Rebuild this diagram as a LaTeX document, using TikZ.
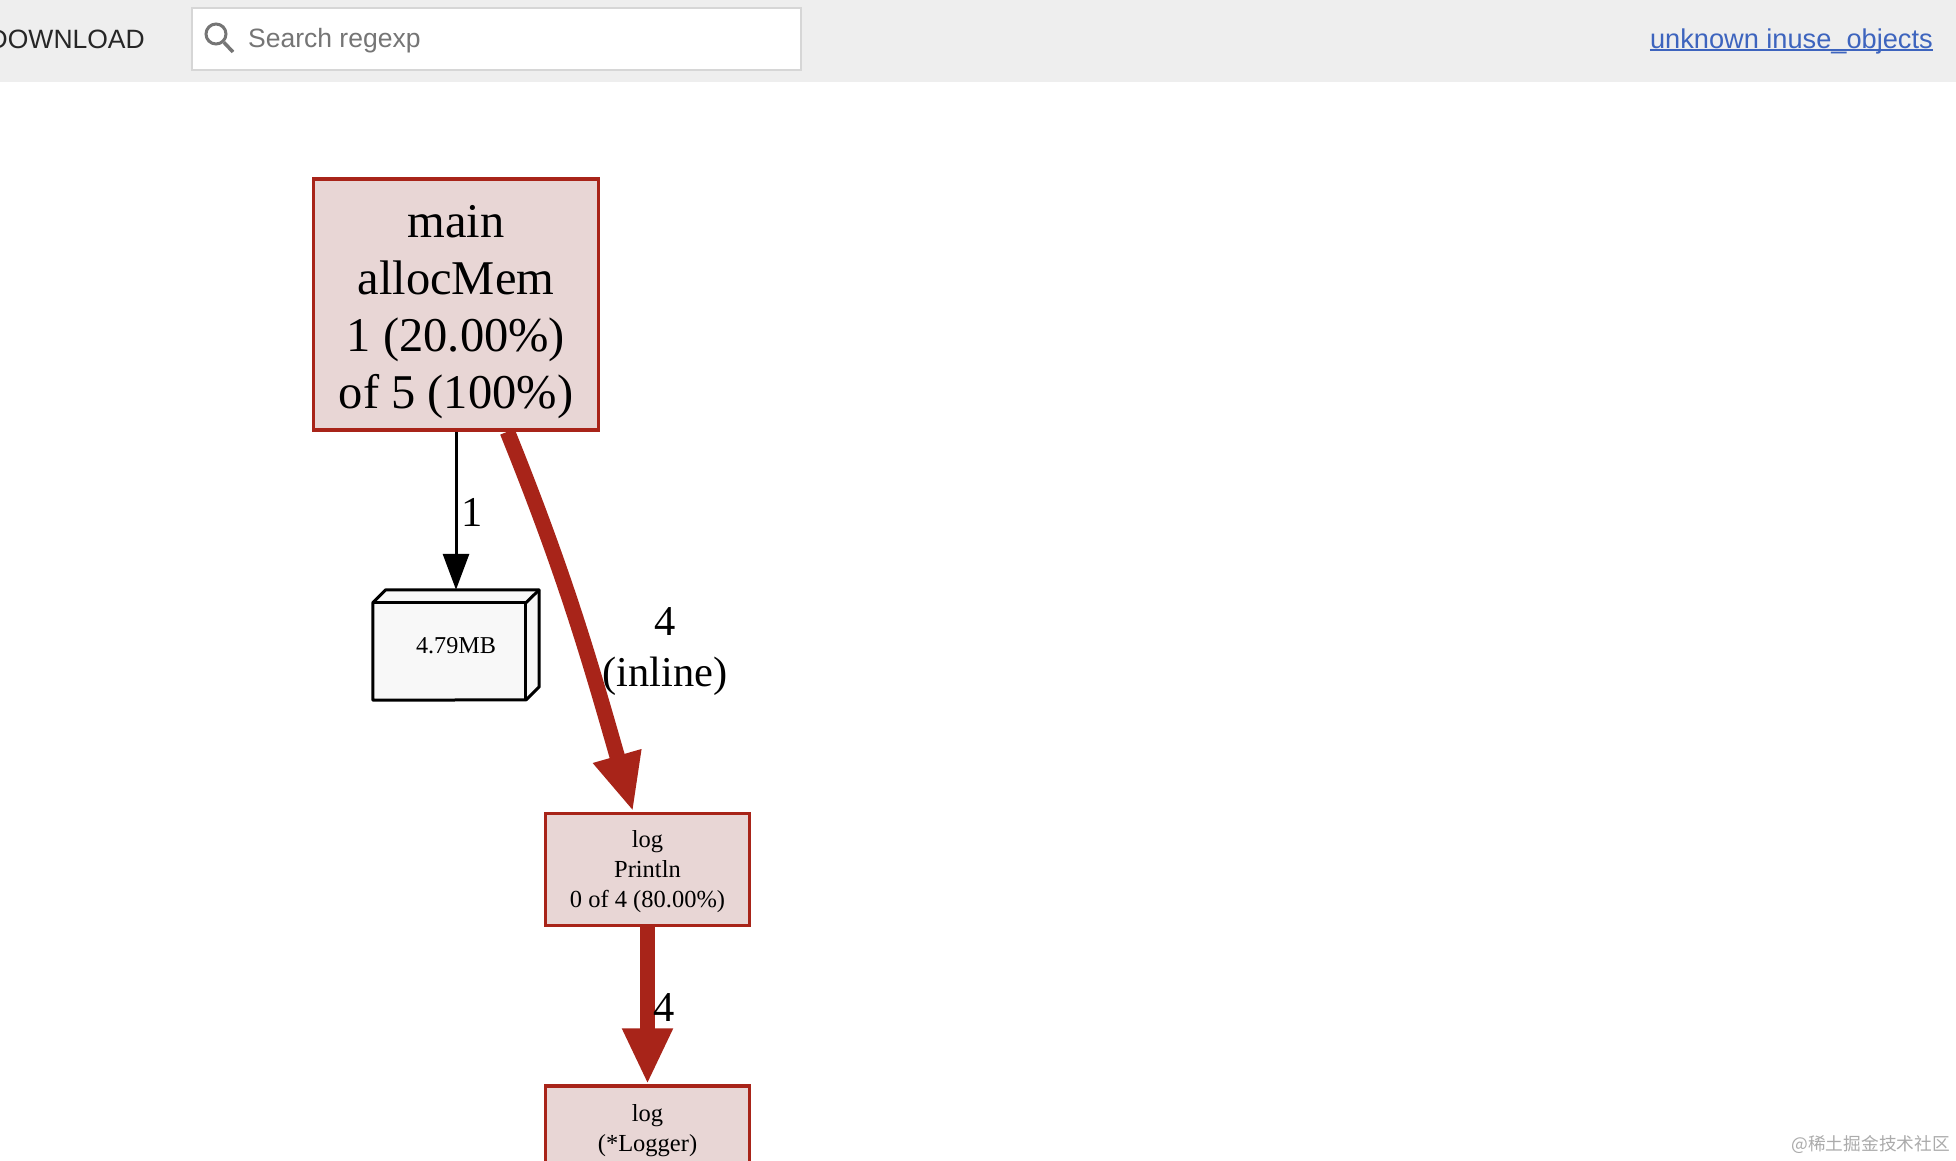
\documentclass[tikz,border=0pt]{standalone}
\usepackage{fontspec}
\usetikzlibrary{arrows.meta}
\setmainfont{Liberation Serif}
\newfontfamily\barfont{Liberation Sans}
\newfontfamily\cjkfont{Noto Sans CJK SC}
\definecolor{barbg}{HTML}{EEEEEE}
\definecolor{barline}{HTML}{D6D6D6}
\definecolor{iconcol}{HTML}{757575}
\definecolor{linkcol}{HTML}{3D64BE}
\definecolor{hotfill}{HTML}{E8D6D5}
\definecolor{hotline}{HTML}{A82419}
\definecolor{memfill}{HTML}{F8F8F8}
\tikzset{
    funcbox/.style={draw=hotline, fill=hotfill, line width=3.5pt, inner sep=0pt},
    boxtext/.style={inner sep=0pt, align=center, font=\fontsize{24.5}{30}\selectfont},
    bigtext/.style={boxtext, font=\fontsize{48.5}{57}\selectfont},
    edgelabel/.style={inner sep=0pt, align=center, font=\fontsize{42.5}{51}\selectfont},
    hotedge/.style={draw=hotline, -{Triangle[length=58pt, width=46pt]}},
    plainedge/.style={draw=black, line width=3pt, -{Triangle[length=36pt, width=26pt]}},
    bartext/.style={inner sep=0pt, font=\barfont\fontsize{26.5}{30}\selectfont}
}
\begin{document}
\begin{tikzpicture}[x=1pt, y=-1pt]
    \clip[use as bounding box] (0, 0) rectangle (1956, 1160);
    \fill[white] (0, 0) rectangle (1956, 1160);

    \node[fill=barbg, minimum width=1956pt, minimum height=82pt, inner sep=0pt] (bar) at (978, 41) {};
    \node[bartext, text=black!85, anchor=east] (download) at (145, 39) {DOWNLOAD};
    \node[draw=barline, fill=white, line width=2pt, minimum width=609pt, minimum height=62pt, inner sep=0pt] (search) at (496, 38.5) {};
    \node[bartext, text=iconcol, anchor=west] (regexp) at (248, 40.5) {Search regexp};
    \node[draw=iconcol, line width=3pt, circle, minimum size=20pt, inner sep=0pt] (lens) at (216, 34) {};
    \coordinate (lensend) at (233, 52);
    \draw[iconcol, line width=3.5pt] (lens) -- (lensend);
    \node[bartext, text=linkcol, anchor=east, font=\barfont\fontsize{27.2}{30}\selectfont] (link) at (1933, 41) {unknown inuse\_objects};
    \draw[linkcol, line width=2pt] ([yshift=-2pt]link.base west) -- ([yshift=-2pt]link.base east);

    \node[funcbox, minimum width=285pt, minimum height=251pt] (main) at (456, 304.5) {};
    \node[bigtext] (maintext) at (456, 312) {main\\allocMem\\1 (20.00\%)\\of 5 (100\%)};
    \node[minimum width=166pt, minimum height=110pt, inner sep=0pt] (mem) at (456, 645) {};
    \draw[fill=memfill, line width=3pt, line join=round] (mem.north west) ++(0, 13) -- ++(13, -13) -- (mem.north east) -- ++(0, 97) -- ++(-13, 13) -- (mem.south west) -- cycle;
    \draw[line width=3pt, line join=round] (mem.north west) ++(0, 13) -- ++(153, 0) -- ++(0, 97);
    \draw[line width=3pt] (mem.north west) ++(153, 13) -- (mem.north east);
    \node[boxtext, font=\fontsize{24.2}{30}\selectfont] (memlabel) at (456, 646) {4.79MB};
    \node[funcbox, minimum width=204pt, minimum height=112pt] (println) at (647.5, 869.5) {};
    \node[boxtext] (printlntext) at (647.5, 872) {log\\Println\\0 of 4 (80.00\%)};
    \node[funcbox, minimum width=204pt, minimum height=84pt] (logger) at (647.5, 1128) {};
    \node[boxtext] (loggertext) at (647.5, 1131) {log\\(*Logger)};

    \draw[plainedge] (main) -- (mem);
    \draw[hotedge, line width=15.5pt] (main.-68.2) to[out=-68, in=106] (println.104);
    \draw[hotedge, line width=15pt, -{Triangle[length=56pt, width=47pt]}] (println) -- (logger);

    \node[edgelabel] (memedge) at (472, 512) {1};
    \node[edgelabel] (inline) at (665, 652) {4\\(inline)};
    \node[edgelabel] (loggeredge) at (664, 1007) {4};

    \node[inner sep=0pt, anchor=east, text=black!33, font=\cjkfont\fontsize{17.7}{20}\selectfont] (mark) at (1950, 1144) {@稀土掘金技术社区};
\end{tikzpicture}
\end{document}
